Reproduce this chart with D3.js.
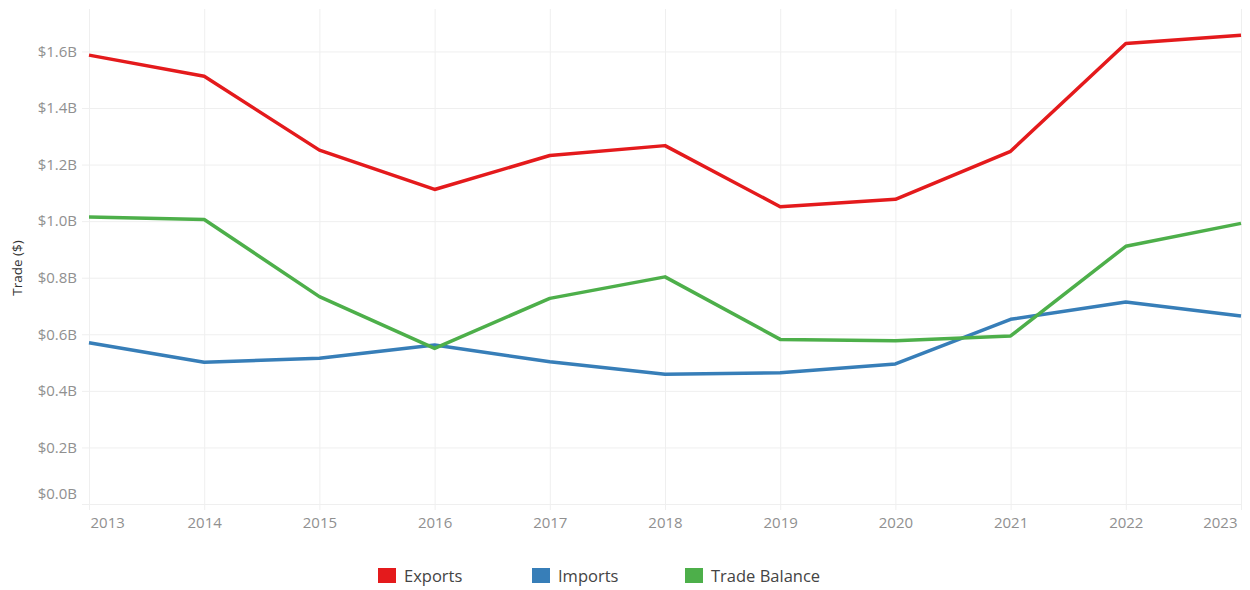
<!DOCTYPE html>
<html>
<head>
<meta charset="utf-8">
<script src="https://cdn.jsdelivr.net/npm/d3@7"></script>
<style>
  body { margin: 0; background: #fff; }
  text { font-family: "Open Sans", "Noto Sans", sans-serif; }
</style>
</head>
<body>
<script>
const years = [2013, 2014, 2015, 2016, 2017, 2018, 2019, 2020, 2021, 2022, 2023];
const exportsB = [1.587, 1.512, 1.251, 1.112, 1.232, 1.267, 1.051, 1.077, 1.247, 1.628, 1.657];
const importsB = [0.570, 0.501, 0.515, 0.562, 0.503, 0.459, 0.464, 0.495, 0.653, 0.714, 0.665];
const balanceB = [1.015, 1.006, 0.733, 0.550, 0.727, 0.803, 0.582, 0.577, 0.594, 0.911, 0.992];
const yTicks = [0, 0.2, 0.4, 0.6, 0.8, 1.0, 1.2, 1.4, 1.6];
const seriesNames = ["Exports", "Imports", "Trade Balance"];
const seriesColors = ["#e41a1c", "#377eb8", "#4daf4a"];

const width = 1250, height = 590;
const plotLeft = 89, plotRight = 1241, plotTop = 9, plotBottom = 504;

const svg = d3.select("body").append("svg").attr("width", width).attr("height", height);

const x = d3.scaleLinear().domain([2013, 2023]).range([plotLeft, plotRight]);
const y = d3.scaleLinear().domain([0, 1.75]).range([plotBottom, plotTop]);

const gridColor = "#efefef";

// vertical grid + ticks
const xGrid = svg.append("g")
    .attr("transform", `translate(0, ${plotBottom + 6})`)
    .call(d3.axisBottom(x).tickValues(years).tickSize(-(plotBottom + 6 - plotTop)).tickFormat(""));
xGrid.select(".domain").remove();
xGrid.selectAll("line").attr("stroke", gridColor);

// horizontal grid + ticks
const yGrid = svg.append("g")
    .attr("transform", `translate(${plotLeft - 7}, 0)`)
    .call(d3.axisLeft(y).tickValues(yTicks).tickSize(-(plotRight + 1 - plotLeft + 7)).tickFormat(""));
yGrid.select(".domain").remove();
yGrid.selectAll("line").attr("stroke", gridColor);

// y labels
const yAxis = svg.append("g")
    .attr("transform", `translate(${plotLeft - 9}, 0)`)
    .call(d3.axisLeft(y).tickValues(yTicks).tickSize(0).tickFormat(d => `$${d.toFixed(1)}B`));
yAxis.select(".domain").remove();
yAxis.selectAll("text")
    .attr("fill", "#909090")
    .style("font-size", "15px")
    .attr("dy", d => d === 0 ? "-0.35em" : "0.32em");

// x labels
const xAxis = svg.append("g")
    .attr("transform", `translate(0, ${plotBottom + 6})`)
    .call(d3.axisBottom(x).tickValues(years).tickSize(0).tickFormat(d3.format("d")));
xAxis.select(".domain").remove();
xAxis.selectAll("text")
    .attr("fill", "#909090")
    .style("font-size", "15px")
    .attr("y", 7)
    .attr("text-anchor", d => d === 2013 ? "start" : d === 2023 ? "end" : "middle")
    .attr("dx", d => d === 2013 ? 1 : d === 2023 ? -4 : 0);

// y title
svg.append("text")
    .attr("transform", `translate(22, 268) rotate(-90)`)
    .attr("text-anchor", "middle")
    .attr("fill", "#333")
    .style("font-size", "13.5px")
    .text("Trade ($)");

const line = d3.line().x((d, i) => x(years[i])).y(d => y(d));

[exportsB, importsB, balanceB].forEach((vals, k) => {
    svg.append("path")
        .datum(vals)
        .attr("d", line)
        .attr("fill", "none")
        .attr("stroke", seriesColors[k])
        .attr("stroke-width", 3.5)
        .attr("stroke-linejoin", "round");
});

// legend
const legendX = [378, 532, 685];
const legend = svg.append("g");
seriesNames.forEach((name, i) => {
    const g = legend.append("g").attr("transform", `translate(${legendX[i]}, 568)`);
    g.append("rect").attr("width", 18).attr("height", 15).attr("fill", seriesColors[i]);
    g.append("text")
        .attr("x", 26)
        .attr("y", 8)
        .attr("dy", "0.35em")
        .attr("fill", "#444")
        .style("font-size", "16.5px")
        .text(name);
});
</script>
</body>
</html>
